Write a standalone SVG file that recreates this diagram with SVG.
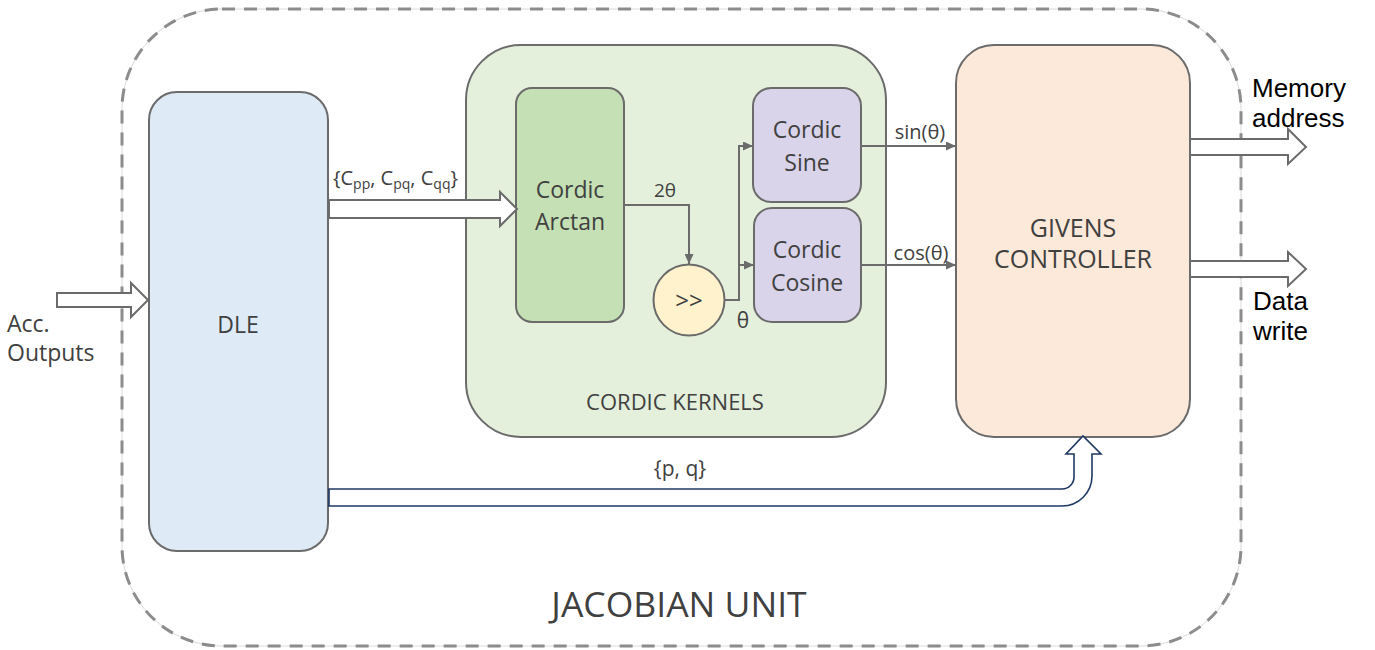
<svg xmlns="http://www.w3.org/2000/svg" width="1375" height="650" viewBox="0 0 1375 650">
<style>
.t{font-family:"Open Sans","DejaVu Sans",sans-serif;fill:#404040}
.a{font-family:"Liberation Sans",Arial,sans-serif;fill:#000}
.box{stroke:#6b6b6b;stroke-width:2}
.ln{fill:none;stroke:#6b6b6b;stroke-width:2}
.blk{fill:#fff;stroke:#6b6b6b;stroke-width:2}
</style>
<defs>
<marker id="ah" markerUnits="userSpaceOnUse" markerWidth="10" markerHeight="9" refX="10" refY="4.5" orient="auto">
<path d="M0,0 L10,4.5 L0,9 Z" fill="#6b6b6b"/>
</marker>
</defs>
<rect width="1375" height="650" fill="#fff"/>
<g id="jacobian-unit">
<rect x="122" y="9" width="1119" height="637" rx="100" fill="none" stroke="#d0d0d0" stroke-width="0.8"/>
<rect x="122" y="9" width="1119" height="637" rx="100" fill="none" stroke="#8c8c8c" stroke-width="3" stroke-dasharray="13 9"/>
<text class="t" x="679" y="617" font-size="35.5" text-anchor="middle">JACOBIAN UNIT</text>
</g>
<g id="cordic-kernels">
<rect class="box" x="466" y="45" width="420" height="392" rx="55" fill="#e4f0db"/>
<text class="t" x="675" y="410" font-size="22" text-anchor="middle">CORDIC KERNELS</text>
</g>
<g id="dle">
<rect class="box" x="149" y="92" width="179" height="459" rx="28" fill="#deebf7"/>
<text class="t" x="238" y="333" font-size="23" text-anchor="middle">DLE</text>
</g>
<g id="cordic-arctan">
<rect class="box" x="516" y="88" width="108" height="234" rx="16" fill="#c5e0b4"/>
<text class="t" x="570" y="198" font-size="23" text-anchor="middle">Cordic</text>
<text class="t" x="570" y="230" font-size="23" text-anchor="middle">Arctan</text>
</g>
<g id="shift">
<circle class="box" cx="689" cy="300" r="35.5" fill="#fff2cc"/>
<text class="t" x="689" y="309" font-size="24" text-anchor="middle">&gt;&gt;</text>
</g>
<g id="cordic-sine">
<rect class="box" x="753" y="88" width="108" height="114" rx="18" fill="#d9d4ea"/>
<text class="t" x="807" y="138" font-size="23" text-anchor="middle">Cordic</text>
<text class="t" x="807" y="171" font-size="23" text-anchor="middle">Sine</text>
</g>
<g id="cordic-cosine">
<rect class="box" x="754" y="208" width="107" height="114" rx="18" fill="#d9d4ea"/>
<text class="t" x="807" y="258" font-size="23" text-anchor="middle">Cordic</text>
<text class="t" x="807" y="291" font-size="23" text-anchor="middle">Cosine</text>
</g>
<g id="givens-controller">
<rect class="box" x="956" y="45" width="234" height="392" rx="38" fill="#fde9d9"/>
<text class="t" x="1073" y="237" font-size="25" text-anchor="middle">GIVENS</text>
<text class="t" x="1073" y="268" font-size="25" text-anchor="middle">CONTROLLER</text>
</g>
<g id="connectors">
<path class="blk" d="M57,293 H131 V283 L148,300 L131,317 V307 H57 Z"/>
<path class="blk" d="M329,200 H500 V192 L517,209 L500,226 V218 H329 Z"/>
<path class="blk" d="M1191,139 H1288 V129 L1306,147 L1288,164 V155 H1191"/>
<path class="blk" d="M1191,261 H1288 V252 L1306,269 L1288,286 V277 H1191"/>
<path d="M329,489 H1062 A12,12 0 0 0 1074,477 V454 H1066 L1083,436 L1101,454 H1092 V476 A30,30 0 0 1 1062,506 H329 Z" fill="#fff" stroke="#1f3864" stroke-width="1.6"/>
<path class="ln" d="M624,205 H689 V264" marker-end="url(#ah)"/>
<path class="ln" d="M725,300 H739 V146 H753" marker-end="url(#ah)"/>
<path class="ln" d="M739,265 H754" marker-end="url(#ah)"/>
<path class="ln" d="M861,146 H956" marker-end="url(#ah)"/>
<path class="ln" d="M861,265 H956" marker-end="url(#ah)"/>
<text class="t" x="665" y="197" font-size="19" text-anchor="middle">2θ</text>
<text class="t" x="743" y="328" font-size="21" text-anchor="middle">θ</text>
<text class="t" x="920" y="139" font-size="20" text-anchor="middle">sin(θ)</text>
<text class="t" x="921" y="260" font-size="20" text-anchor="middle">cos(θ)</text>
<text class="t" x="333" y="185" font-size="20">{C<tspan font-size="14" dy="4">pp</tspan><tspan dy="-4">, C</tspan><tspan font-size="14" dy="4">pq</tspan><tspan dy="-4">, C</tspan><tspan font-size="14" dy="4">qq</tspan><tspan dy="-4">}</tspan></text>
<text class="t" x="680" y="476" font-size="21" text-anchor="middle">{p, q}</text>
<text class="t" x="7" y="332" font-size="23">Acc.</text>
<text class="t" x="7" y="361" font-size="23">Outputs</text>
<text class="a" x="1252" y="97" font-size="26">Memory</text>
<text class="a" x="1252" y="127" font-size="26">address</text>
<text class="a" x="1253" y="310" font-size="26">Data</text>
<text class="a" x="1253" y="340" font-size="26">write</text>
</g>
</svg>
